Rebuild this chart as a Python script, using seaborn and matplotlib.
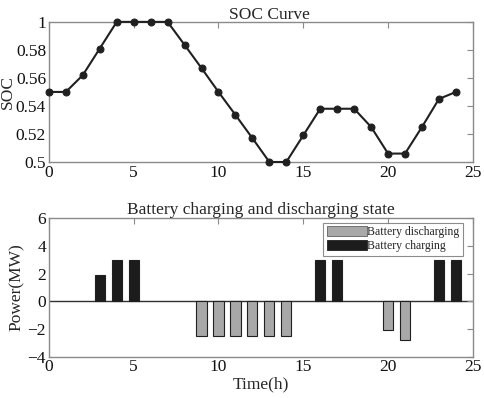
import numpy as np
import pandas as pd
import matplotlib
matplotlib.use("Agg")
import matplotlib.pyplot as plt
import seaborn as sns
from matplotlib.patches import Patch

sns.set_theme(style="white")
plt.rcParams['font.family'] = ['Liberation Serif', 'DejaVu Serif']

# ---- data ----
hours = list(range(25))
soc = [0.55, 0.55, 0.562, 0.581, 0.60, 0.60, 0.60, 0.60, 0.5836, 0.567, 0.550,
       0.5336, 0.517, 0.500, 0.500, 0.519, 0.538, 0.538, 0.538, 0.525, 0.506,
       0.506, 0.525, 0.545, 0.550]
soc_ticks = [0.50, 0.52, 0.54, 0.56, 0.58, 0.60]
soc_ticklabels = ["0.5", "0.52", "0.54", "0.56", "0.58", "1"]

bar_hours = [3, 4, 5, 9, 10, 11, 12, 13, 14, 16, 17, 20, 21, 23, 24]
bar_power = [1.9, 3.0, 3.0, -2.5, -2.5, -2.5, -2.5, -2.5, -2.5, 3.0, 3.0, -2.1, -2.8, 3.0, 3.0]
bar_state = ["Battery charging" if p > 0 else "Battery discharging" for p in bar_power]

colors = {"Battery discharging": "#a8a8a8", "Battery charging": "#1c1c1c"}

fig = plt.figure(figsize=(4.84, 3.98), dpi=100)
ax1 = fig.add_axes([0.101, 0.593, 0.876, 0.352])
ax2 = fig.add_axes([0.101, 0.104, 0.876, 0.348])

FS = 12.5
spine_col = "#8a8a8a"

# ---- top: SOC curve ----
df1 = pd.DataFrame({"t": hours, "soc": soc})
sns.lineplot(data=df1, x="t", y="soc", ax=ax1, color="#202020", lw=1.5,
             marker="o", markersize=5, markeredgecolor="#202020", clip_on=False,
             zorder=5)
ax1.set_xlim(0, 25)
ax1.set_ylim(0.5, 0.6)
ax1.set_yticks(soc_ticks)
ax1.set_yticklabels(soc_ticklabels)
ax1.set_xticks([0, 5, 10, 15, 20, 25])
ax1.set_title("SOC Curve", fontsize=FS, pad=2, x=0.52)
ax1.set_xlabel("")
ax1.set_ylabel("SOC", fontsize=FS, labelpad=0)

# ---- bottom: bars ----
df2 = pd.DataFrame({"t": bar_hours, "p": bar_power, "state": bar_state})
sns.barplot(data=df2, x="t", y="p", hue="state", palette=colors, native_scale=True,
            dodge=False, width=0.6, ax=ax2, edgecolor="#202020", linewidth=0.8,
            legend=False)
ax2.axhline(0, color="#303030", lw=1.0, zorder=0)
ax2.set_xlim(0, 25)
ax2.set_ylim(-4, 6)
ax2.set_xticks([0, 5, 10, 15, 20, 25])
ax2.set_yticks([-4, -2, 0, 2, 4, 6])
ax2.set_title("Battery charging and discharging state", fontsize=FS, pad=3)
ax2.set_xlabel("Time(h)", fontsize=FS, labelpad=1)
ax2.set_ylabel("Power(MW)", fontsize=FS, labelpad=2)

handles = [Patch(facecolor=colors["Battery discharging"], edgecolor="#606060", lw=0.6),
           Patch(facecolor=colors["Battery charging"], edgecolor="#202020", lw=0.6)]
leg = ax2.legend(handles, ["Battery discharging", "Battery charging"], loc="upper right",
                 bbox_to_anchor=(0.976, 0.966),
                 fontsize=8.5, frameon=True, fancybox=False, handlelength=3.4,
                 handleheight=0.9, handletextpad=0.0, labelspacing=0.15,
                 borderpad=0.3, borderaxespad=0.0)
leg.get_frame().set_edgecolor("#707070")
leg.get_frame().set_linewidth(0.8)

for ax in (ax1, ax2):
    for s in ax.spines.values():
        s.set_visible(True)
        s.set_color(spine_col)
        s.set_linewidth(1.0)
    ax.tick_params(direction="in", length=4, width=0.8, color=spine_col,
                   labelsize=FS, top=True, right=True, pad=2,
                   labelcolor="#111111")
    ax.grid(False)

fig.savefig("out.png", dpi=100)
